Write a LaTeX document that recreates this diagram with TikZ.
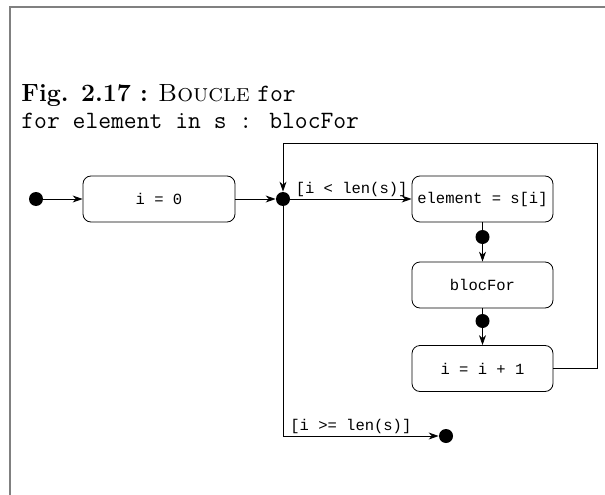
\documentclass[tikz,border=0pt]{standalone}
\usepackage{fontspec}
\newfontfamily\courier{Liberation Mono}
\usetikzlibrary{arrows.meta}
\tikzset{
	etat/.style={draw, rounded corners=8pt, inner sep=0pt, minimum height=46pt, font=\courier\fontsize{15.5}{18}\selectfont},
	point/.style={circle, fill, inner sep=0pt, minimum size=14pt},
	fleche/.style={-{Stealth[length=10pt,width=7pt]}},
	garde/.style={anchor=south west, inner sep=2pt, font=\courier\fontsize{15.5}{18}\selectfont},
	titre/.style={anchor=base west, inner sep=0pt, font=\fontsize{24.9}{29}\selectfont},
}
\begin{document}
\begin{tikzpicture}[x=1pt, y=-1pt, line width=0.8pt]
				\useasboundingbox (0,0) rectangle (605,495);
				\draw [gray, line width=1.6pt] (10,495) -- (10,7) -- (605,7);
				% titre
				\node (titre) [titre] at (21,101) {\textbf{Fig. 2.17 :} \textsc{Boucle} \texttt{for}};
				\node (syntaxe) [titre] at (21,128) {\texttt{for element in s : blocFor}};
				% etats
				\node (debut) [point] at (36,199) {};
				\node (init) [etat, minimum width=152pt] at (159,199) {i = 0};
				\node (choix) [point] at (283,199) {};
				\node (elem) [etat, minimum width=141pt] at (482.5,199) {element = s[i]};
				\node (p1) [point] at (482.5,237) {};
				\node (bloc) [etat, minimum width=141pt] at (482.5,285) {blocFor};
				\node (p2) [point] at (482.5,321) {};
				\node (incr) [etat, minimum width=141pt] at (482.5,368.5) {i = i + 1};
				\node (fin) [point] at (446,436) {};
				% transitions
				\draw [fleche] (debut) -- (init);
				\draw [fleche] (init) -- (choix);
				\draw [fleche] (choix) -- (elem) node [garde, xshift=3pt] at (choix.east) {[i < len(s)]};
				\draw (elem) -- (p1);
				\draw [fleche] (p1) -- (bloc);
				\draw (bloc) -- (p2);
				\draw [fleche] (p2) -- (incr);
				\draw [fleche] (incr.east) -- (597,368.5) -- (597,143) -- (283,143) -- (choix);
				\draw [fleche] (choix) |- (fin) node [garde, pos=0.5, xshift=5pt] {[i >= len(s)]};
\end{tikzpicture}
\end{document}
